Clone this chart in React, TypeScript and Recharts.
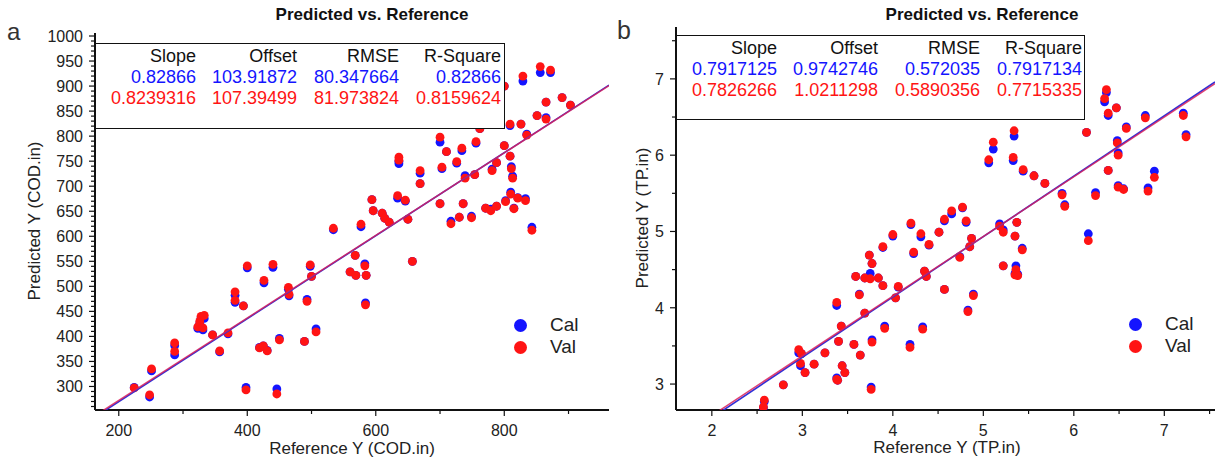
import React from 'react';
import { ScatterChart, Scatter, XAxis, YAxis, Legend } from 'recharts';

const FONT = '"Liberation Sans", Arial, Helvetica, sans-serif';
const BLUE = '#1414ff';
const RED = '#ff1414';
const BLUE_LINE = '#3030d8';
const RED_LINE = '#d8205a';

// ---------- Panel a : COD ----------
const codRef = [224, 248, 251, 287, 287, 323, 326, 328, 333, 331, 346, 357, 370, 381, 381, 394, 400, 398, 426, 419, 425, 431, 440, 446, 450, 464, 465, 489, 493, 498, 500, 507, 534, 560, 568, 569, 577, 583, 585, 584, 594, 596, 610, 614, 621, 634, 636, 636, 646, 650, 657, 669, 669, 700, 700, 703, 710, 717, 726, 730, 734, 736, 739, 749, 754, 756, 762, 771, 779, 781, 788, 788, 800, 802, 800, 809, 809, 810, 811, 813, 815, 821, 826, 829, 833, 835, 843, 851, 856, 865, 865, 872, 890, 903];
const codCal = [298, 279, 331, 382, 363, 416, 426, 436, 436, 413, 403, 369, 405, 482, 468, 461, 537, 298, 507, 378, 381, 372, 538, 295, 396, 494, 481, 390, 474, 540, 520, 415, 613, 529, 562, 522, 619, 545, 522, 467, 673, 651, 646, 636, 628, 676, 745, 750, 670, 634, 550, 726, 705, 665, 788, 735, 769, 630, 746, 638, 771, 665, 721, 640, 723, 786, 815, 656, 654, 734, 747, 660, 781, 671, 900, 760, 821, 688, 739, 720, 656, 677, 824, 910, 675, 804, 618, 841, 927, 837, 868, 927, 877, 862];
const codVal = [297, 283, 335, 387, 370, 419, 430, 440, 442, 417, 403, 371, 407, 489, 472, 461, 541, 293, 512, 377, 381, 371, 544, 285, 393, 498, 484, 390, 470, 543, 520, 409, 616, 529, 562, 522, 624, 541, 522, 463, 673, 651, 646, 636, 628, 681, 758, 752, 672, 634, 550, 731, 705, 665, 798, 738, 769, 625, 749, 638, 776, 665, 716, 637, 723, 789, 815, 656, 651, 731, 747, 660, 781, 669, 900, 760, 824, 684, 735, 716, 655, 676, 824, 920, 671, 802, 612, 841, 939, 834, 868, 932, 877, 862];
const codXMajor = [200, 400, 600, 800];
const codXMinor = [300, 500, 700, 900];
const codYMajor = [300, 350, 400, 450, 500, 550, 600, 650, 700, 750, 800, 850, 900, 950, 1000];
const codCalFit = [0.82866, 103.91872];
const codValFit = [0.8239316, 107.39499];

// ---------- Panel b : TP ----------
const tpRef = [2.58, 2.57, 2.79, 2.96, 2.99, 2.98, 3.03, 3.13, 3.25, 3.38, 3.39, 3.38, 3.40, 3.43, 3.44, 3.47, 3.57, 3.59, 3.63, 3.64, 3.69, 3.69, 3.74, 3.75, 3.76, 3.77, 3.77, 3.84, 3.89, 3.89, 3.91, 4.00, 4.03, 4.06, 4.19, 4.20, 4.23, 4.31, 4.33, 4.35, 4.37, 4.40, 4.51, 4.57, 4.57, 4.65, 4.74, 4.77, 4.81, 4.83, 4.85, 4.87, 4.89, 5.06, 5.11, 5.18, 5.22, 5.22, 5.33, 5.34, 5.35, 5.37, 5.36, 5.35, 5.38, 5.43, 5.44, 5.56, 5.68, 5.87, 5.90, 6.14, 6.16, 6.24, 6.34, 6.36, 6.38, 6.38, 6.47, 6.48, 6.49, 6.49, 6.55, 6.58, 6.79, 6.82, 6.89, 7.21, 7.24];
const tpCal = [2.77, 2.69, 2.99, 3.41, 3.40, 3.24, 3.15, 3.26, 3.41, 3.08, 3.05, 4.03, 3.56, 3.76, 3.24, 3.15, 3.52, 4.41, 4.18, 3.38, 4.39, 3.93, 4.69, 4.45, 2.96, 4.58, 3.58, 4.39, 4.79, 4.29, 3.76, 4.94, 4.13, 4.27, 3.52, 5.09, 4.71, 4.93, 3.75, 4.48, 4.41, 4.82, 4.99, 4.24, 5.14, 5.23, 4.67, 5.31, 5.12, 3.97, 4.80, 4.91, 4.18, 5.90, 6.08, 5.10, 5.02, 4.55, 5.93, 6.25, 4.94, 5.12, 4.55, 4.45, 4.44, 4.78, 5.79, 5.73, 5.63, 5.50, 5.35, 6.30, 4.97, 5.51, 6.70, 6.82, 6.52, 5.80, 6.62, 6.19, 6.03, 5.60, 5.56, 6.37, 6.52, 5.57, 5.79, 6.55, 6.27];
const tpVal = [2.79, 2.70, 2.99, 3.45, 3.40, 3.27, 3.15, 3.26, 3.41, 3.06, 3.05, 4.07, 3.56, 3.76, 3.24, 3.15, 3.52, 4.41, 4.17, 3.38, 4.39, 3.93, 4.69, 4.38, 2.93, 4.58, 3.55, 4.39, 4.80, 4.29, 3.73, 4.96, 4.13, 4.28, 3.48, 5.11, 4.73, 4.97, 3.72, 4.48, 4.41, 4.83, 4.99, 4.24, 5.16, 5.27, 4.66, 5.32, 5.14, 3.95, 4.80, 4.91, 4.16, 5.94, 6.17, 5.07, 4.99, 4.55, 5.97, 6.32, 4.94, 5.12, 4.50, 4.43, 4.42, 4.76, 5.81, 5.73, 5.63, 5.48, 5.33, 6.30, 4.88, 5.47, 6.74, 6.86, 6.55, 5.80, 6.62, 6.16, 6.00, 5.58, 5.55, 6.35, 6.49, 5.53, 5.71, 6.52, 6.24];
const tpXMajor = [2, 3, 4, 5, 6, 7];
const tpXMinor = [2.5, 3.5, 4.5, 5.5, 6.5, 7.5];
const tpYMajor = [3, 4, 5, 6, 7];
const tpYMinor = [3.5, 4.5, 5.5, 6.5, 7.5];
const tpCalFit = [0.7917125, 0.9742746];
const tpValFit = [0.7826266, 1.0211298];

// ---------- Table ----------
const statHeaders = ['Slope', 'Offset', 'RMSE', 'R-Square'];
const codCalStats = ['0.82866', '103.91872', '80.347664', '0.82866'];
const codValStats = ['0.8239316', '107.39499', '81.973824', '0.8159624'];
const tpCalStats = ['0.7917125', '0.9742746', '0.572035', '0.7917134'];
const tpValStats = ['0.7826266', '1.0211298', '0.5890356', '0.7715335'];
const legendNames = ['Cal', 'Val'];

const range = (a: number, b: number, step: number) => {
  const out: number[] = [];
  for (let v = a; v <= b + 1e-9; v += step) out.push(Math.round(v * 1000) / 1000);
  return out;
};

const TICK_SIZE = 6;
const TICK_MARGIN = 4;

const makeTick = (axis: 'x' | 'y', majors: number[]) => (props: any) => {
  const { x, y, payload } = props;
  const v = payload.value;
  const isMajor = majors.some((m) => Math.abs(m - v) < 1e-6);
  if (axis === 'y') {
    const ax = x + TICK_SIZE + TICK_MARGIN;
    return (
      <g>
        <line x1={ax - (isMajor ? 6 : 4)} x2={ax} y1={y} y2={y} stroke="#111" strokeWidth={1.2} />
        {isMajor && (
          <text x={ax - 12} y={y} dy="0.36em" textAnchor="end" fontSize={16} fontFamily={FONT} fill="#222">
            {String(v)}
          </text>
        )}
      </g>
    );
  }
  const ay = y - TICK_SIZE - TICK_MARGIN;
  return (
    <g>
      <line x1={x} x2={x} y1={ay} y2={ay + (isMajor ? 6 : 4)} stroke="#111" strokeWidth={1.2} />
      {isMajor && (
        <text x={x} y={ay + 26} textAnchor="middle" fontSize={16} fontFamily={FONT} fill="#222">
          {String(v)}
        </text>
      )}
    </g>
  );
};

const dot = (color: string) => (p: any) => <circle cx={p.cx} cy={p.cy} r={4.4} fill={color} />;
const noShape = () => <g />;

const LegendContent = () => (
  <div style={{ fontFamily: FONT, fontSize: 19, color: '#222' }}>
    {legendNames.map((n, i) => (
      <div key={n} style={{ display: 'flex', alignItems: 'center', height: 22 }}>
        <span style={{ display: 'inline-block', width: 13, height: 13, borderRadius: 7, background: i === 0 ? BLUE : RED }} />
        <span style={{ marginLeft: 23, lineHeight: '22px' }}>{n}</span>
      </div>
    ))}
  </div>
);

type PanelProps = {
  left: number; width: number; top: number; yAxisWidth: number; right: number;
  xDomain: [number, number]; yDomain: [number, number];
  xMajor: number[]; xTicks: number[]; yMajor: number[]; yTicks: number[];
  refs: number[]; cal: number[]; val: number[];
  calFit: number[]; valFit: number[];
  legendLeft: number; legendTop: number;
};

const Panel = (p: PanelProps) => {
  const calData = p.refs.map((r, i) => ({ x: r, y: p.cal[i] }));
  const valData = p.refs.map((r, i) => ({ x: r, y: p.val[i] }));
  const fit = (f: number[]) => p.xDomain.map((x) => ({ x, y: f[0] * x + f[1] }));
  return (
    <div style={{ position: 'absolute', left: p.left, top: 0 }}>
      <ScatterChart width={p.width} height={463} margin={{ top: p.top, right: p.right, bottom: 0, left: 0 }}>
        <XAxis
          type="number" dataKey="x" domain={p.xDomain} allowDataOverflow ticks={p.xTicks} interval={0}
          height={53} tickSize={TICK_SIZE} tickMargin={TICK_MARGIN} tickLine={false}
          axisLine={{ stroke: '#111', strokeWidth: 2 }} tick={makeTick('x', p.xMajor)}
        />
        <YAxis
          type="number" dataKey="y" domain={p.yDomain} allowDataOverflow ticks={p.yTicks} interval={0}
          width={p.yAxisWidth} tickSize={TICK_SIZE} tickMargin={TICK_MARGIN} tickLine={false}
          axisLine={{ stroke: '#111', strokeWidth: 2 }} tick={makeTick('y', p.yMajor)}
        />
        <Scatter data={calData} fill={BLUE} shape={dot(BLUE)} isAnimationActive={false} />
        <Scatter data={valData} fill={RED} shape={dot(RED)} isAnimationActive={false} />
        <Scatter data={fit(p.calFit)} line={{ stroke: BLUE_LINE, strokeWidth: 1.6 }} shape={noShape} isAnimationActive={false} legendType="none" />
        <Scatter data={fit(p.valFit)} line={{ stroke: RED_LINE, strokeWidth: 1.5, strokeOpacity: 0.85 }} shape={noShape} isAnimationActive={false} legendType="none" />
        <Legend
          layout="horizontal" verticalAlign="middle" align="center"
          content={<LegendContent />}
          wrapperStyle={{ left: p.legendLeft, top: p.legendTop, width: 90, height: 44 }}
        />
      </ScatterChart>
    </div>
  );
};

const StatsBox = ({ left, top, width, height, calStats, valStats }: any) => {
  const cols = [100, 101, 102, 102];
  const row = (cells: string[], color: string) => (
    <div style={{ display: 'flex', height: 21, lineHeight: '21px', color }}>
      {cells.map((c, i) => (
        <div key={i} style={{ width: cols[i], textAlign: 'right', whiteSpace: 'nowrap' }}>{c}</div>
      ))}
    </div>
  );
  return (
    <div
      style={{
        position: 'absolute', left, top, width, height, boxSizing: 'border-box',
        border: '1.5px solid #111', background: '#fff', fontFamily: FONT, fontSize: 18, paddingTop: 2,
      }}
    >
      {row(statHeaders, '#111')}
      {row(calStats, BLUE)}
      {row(valStats, RED)}
    </div>
  );
};

const abs = (extra: React.CSSProperties): React.CSSProperties => ({
  position: 'absolute', fontFamily: FONT, whiteSpace: 'nowrap', ...extra,
});

export default function App() {
  return (
    <div style={{ position: 'absolute', left: 0, top: 0, width: 1215, height: 463, overflow: 'hidden', background: '#fff' }}>
      <Panel
        left={0} width={615} top={33} right={6} yAxisWidth={95}
        xDomain={[163, 963]} yDomain={[253, 1006]}
        xMajor={codXMajor} xTicks={[...codXMajor, ...codXMinor].sort((a, b) => a - b)}
        yMajor={codYMajor} yTicks={range(260, 1000, 10)}
        refs={codRef} cal={codCal} val={codVal} calFit={codCalFit} valFit={codValFit}
        legendLeft={514} legendTop={314}
      />
      <Panel
        left={615} width={600} top={27} right={0} yAxisWidth={61}
        xDomain={[1.604, 7.56]} yDomain={[2.66, 7.68]}
        xMajor={tpXMajor} xTicks={[...tpXMajor, ...tpXMinor].sort((a, b) => a - b)}
        yMajor={tpYMajor} yTicks={[...tpYMajor, ...tpYMinor].sort((a, b) => a - b)}
        refs={tpRef} cal={tpCal} val={tpVal} calFit={tpCalFit} valFit={tpValFit}
        legendLeft={514} legendTop={313}
      />
      <StatsBox left={95} top={43} width={410} height={86} calStats={codCalStats} valStats={codValStats} />
      <StatsBox left={676} top={35} width={409} height={85} calStats={tpCalStats} valStats={tpValStats} />

      <div style={abs({ left: 7, top: 18, fontSize: 24, color: '#333' })}>a</div>
      <div style={abs({ left: 617, top: 16, fontSize: 25, color: '#333' })}>b</div>
      <div style={abs({ left: 372, top: 15, transform: 'translate(-50%, -50%)', fontSize: 17, fontWeight: 'bold', color: '#111' })}>Predicted vs. Reference</div>
      <div style={abs({ left: 982, top: 15, transform: 'translate(-50%, -50%)', fontSize: 17, fontWeight: 'bold', color: '#111' })}>Predicted vs. Reference</div>
      <div style={abs({ left: 352, top: 449, transform: 'translate(-50%, -50%)', fontSize: 17, color: '#222' })}>Reference Y (COD.in)</div>
      <div style={abs({ left: 947, top: 448, transform: 'translate(-50%, -50%)', fontSize: 17, color: '#222' })}>Reference Y (TP.in)</div>
      <div style={abs({ left: 35, top: 221, transform: 'translate(-50%, -50%) rotate(-90deg)', fontSize: 17, color: '#222' })}>Predicted Y (COD.in)</div>
      <div style={abs({ left: 643, top: 218, transform: 'translate(-50%, -50%) rotate(-90deg)', fontSize: 17, color: '#222' })}>Predicted Y (TP.in)</div>
    </div>
  );
}
